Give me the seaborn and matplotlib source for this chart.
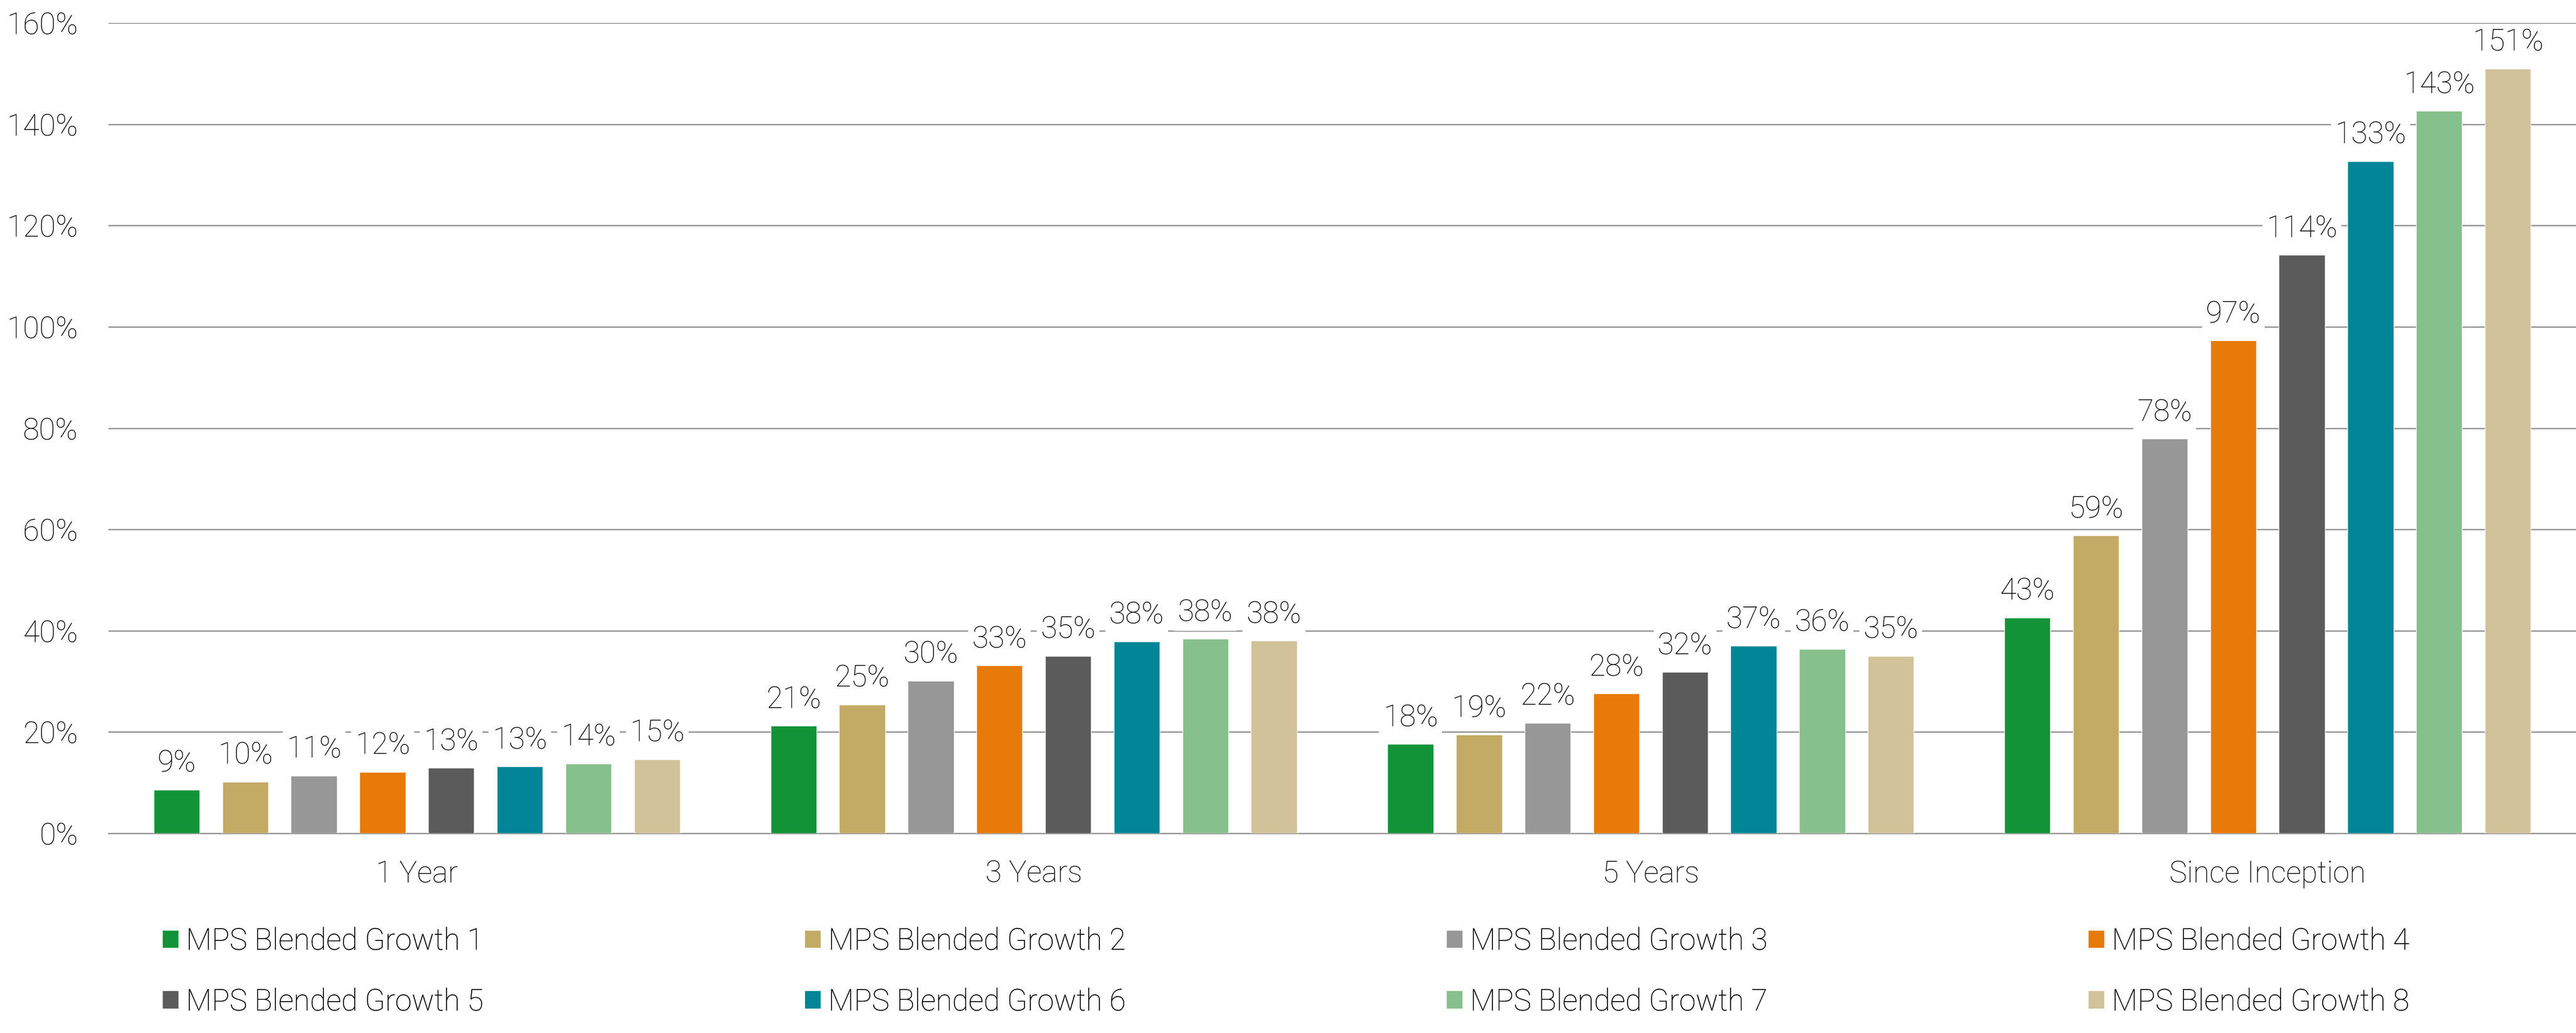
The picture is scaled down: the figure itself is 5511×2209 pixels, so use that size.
import numpy as np
import pandas as pd
import seaborn as sns
import matplotlib.pyplot as plt

sns.set_style('white')
plt.rcParams['font.family'] = ['Roboto', 'Lato', 'DejaVu Sans']
plt.rcParams['font.weight'] = 'light'

periods = ['1 Year', '3 Years', '5 Years', 'Since Inception']
series = ['MPS Blended Growth %d' % i for i in range(1, 9)]
colors = ['#139337', '#C3AB65', '#979797', '#E77A08',
          '#5B5B5B', '#028697', '#86C08C', '#D2C29A']

# returns in %, one list per period (growth 1..8)
one_year = [8.6, 10.2, 11.4, 12.1, 12.9, 13.2, 13.8, 14.6]
three_years = [21.2, 25.4, 30.1, 33.1, 35.0, 37.9, 38.4, 38.0]
five_years = [17.6, 19.45, 21.8, 27.6, 31.85, 37.0, 36.4, 35.0]
since_inception = [42.6, 58.8, 77.9, 97.3, 114.2, 132.7, 142.6, 151.0]

rows = []
for p, vals in zip(periods, [one_year, three_years, five_years, since_inception]):
    for s, v in zip(series, vals):
        rows.append({'period': p, 'series': s, 'value': v})
df = pd.DataFrame(rows)

fs = 46
grid_col = '#9a9a9a'
txt_col = 'black'

fig = plt.figure(figsize=(55.11, 22.09), dpi=100)
ax = fig.add_axes([0.0421, 0.1933, 0.9579, 0.7845])

sns.barplot(data=df, x='period', y='value', hue='series', palette=colors,
            order=periods, hue_order=series, width=0.89, gap=0.33,
            saturation=1, ax=ax, zorder=3)

ax.set_ylim(0, 160)
ax.set_xlim(-0.5, 3.5)
ax.set_yticks(np.arange(0, 161, 20))
ax.set_yticklabels(['%d%%' % t for t in range(0, 161, 20)])
ax.yaxis.grid(True, color=grid_col, linewidth=2.2, zorder=0)
ax.set_axisbelow(True)
ax.tick_params(axis='y', length=0, pad=47, labelsize=fs, labelcolor=txt_col)
ax.tick_params(axis='x', which='major', length=0, pad=40, labelsize=fs,
               labelcolor=txt_col)
ax.set_xticks([-0.5, 0.5, 1.5, 2.5, 3.5], minor=True)
ax.tick_params(axis='x', which='minor', length=15, width=2.2, color=grid_col,
               direction='out')
ax.set_xlabel('')
ax.set_ylabel('')
for side in ['top', 'right', 'left']:
    ax.spines[side].set_visible(False)
ax.spines['bottom'].set_color(grid_col)
ax.spines['bottom'].set_linewidth(2.2)

for cont in ax.containers:
    ax.bar_label(cont, fmt='%.0f%%', padding=18, fontsize=fs, color=txt_col,
                 bbox=dict(facecolor='white', edgecolor='none', pad=6),
                 zorder=4)

handles, labels = ax.get_legend_handles_labels()
ax.legend_.remove()
# legend: 4 columns, two rows (1-4 on top, 5-8 below)
for col in range(4):
    idx = [col, col + 4]
    leg = fig.legend([handles[i] for i in idx], [labels[i] for i in idx],
                     loc='upper left', bbox_to_anchor=(0.063 + col * 0.2492, 0.103),
                     ncol=1, frameon=False, fontsize=fs,
                     handlelength=0.55, handleheight=0.55, handletextpad=0.25,
                     labelspacing=1.06, borderpad=0, borderaxespad=0,
                     labelcolor=txt_col)
    fig.add_artist(leg)

fig.savefig('out.png', dpi=100, facecolor='white')
